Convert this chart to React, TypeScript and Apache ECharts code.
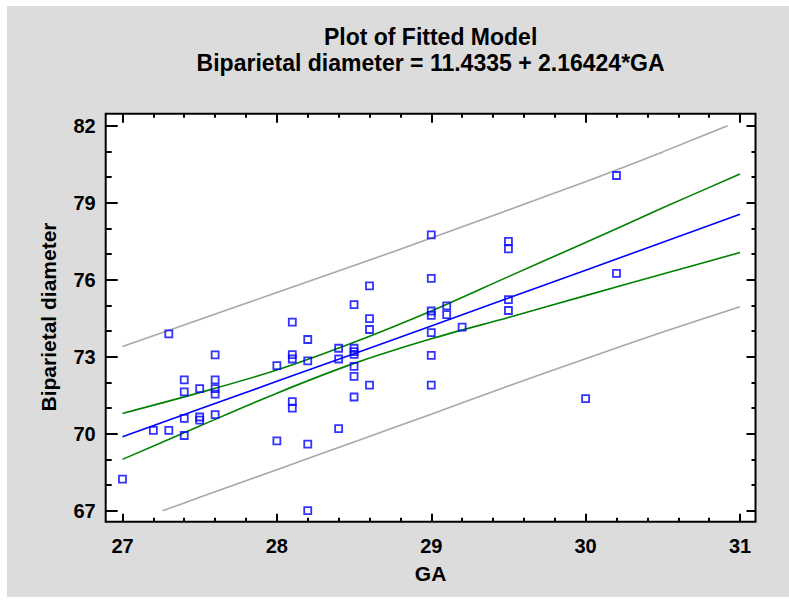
import React, { useEffect, useRef } from "react";
import * as echarts from "echarts";

// Observed points
const pointGA = [
  27.0, 27.2, 27.3, 27.3,
  27.4, 27.4, 27.4, 27.4,
  27.5, 27.5, 27.5,
  27.6, 27.6, 27.6, 27.6, 27.6,
  28.0, 28.0,
  28.1, 28.1, 28.1, 28.1, 28.1,
  28.2, 28.2, 28.2, 28.2,
  28.4, 28.4, 28.4,
  28.5, 28.5, 28.5, 28.5, 28.5, 28.5, 28.5,
  28.6, 28.6, 28.6, 28.6,
  29.0, 29.0, 29.0, 29.0, 29.0, 29.0, 29.0,
  29.1, 29.1,
  29.2,
  29.5, 29.5, 29.5, 29.5,
  30.0,
  30.2, 30.2,
];
const pointBPD = [
  68.23, 70.13, 70.13, 73.89,
  72.1, 71.63, 70.6, 69.93,
  71.76, 70.65, 70.53,
  73.07, 72.1, 71.76, 71.54, 70.74,
  72.65, 69.72,
  74.35, 73.08, 72.91, 71.25, 71.0,
  73.67, 72.84, 69.59, 67.0,
  73.33, 72.91, 70.2,
  75.03, 73.33, 73.2, 73.09, 72.62, 72.23, 71.43,
  75.76, 74.48, 74.06, 71.89,
  77.75, 76.05, 74.78, 74.61, 73.94, 73.05, 71.89,
  74.98, 74.64,
  74.15,
  77.49, 77.2, 75.22, 74.8,
  71.37,
  80.06, 76.25,
];

// Fitted line
const fitGA = [27, 28, 29, 30, 31];
const fitBPD = [69.88, 72.04, 74.2, 76.37, 78.55];

// Confidence limits (green)
const confGA = [27, 27.5, 28, 28.5, 29, 29.5, 30, 30.5, 31];
const upperConfBPD = [70.79, 71.6, 72.48, 73.56, 74.78, 76.12, 77.45, 78.8, 80.12];
const lowerConfBPD = [69.0, 70.3, 71.58, 72.74, 73.7, 74.53, 75.38, 76.22, 77.06];

// Prediction limits (gray)
const upperPredGA = [27.0, 27.5, 28.0, 28.5, 29.0, 29.5, 30.0, 30.5, 30.92];
const upperPredBPD = [73.4, 74.45, 75.5, 76.55, 77.62, 78.72, 79.82, 80.98, 82.0];
const lowerPredGA = [27.26, 27.5, 28.0, 28.5, 29.0, 29.5, 30.0, 30.5, 31.0];
const lowerPredBPD = [67.0, 67.52, 68.6, 69.68, 70.76, 71.86, 72.92, 73.96, 74.95];

// Axis ticks
const yMajorTicks = [67, 70, 73, 76, 79, 82];
const yMinorTicks = [68, 69, 71, 72, 74, 75, 77, 78, 80, 81];

const titleLine1 = "Plot of Fitted Model";
const titleLine2 = "Biparietal diameter = 11.4335 + 2.16424*GA";
const xName = "GA";
const yName = "Biparietal diameter";

const FONT = "'Liberation Sans', Arial, Helvetica, sans-serif";

const zip = (xs: number[], ys: number[]) => xs.map((x, i) => [x, ys[i]]);

export default function App() {
  const ref = useRef<HTMLDivElement>(null);
  useEffect(() => {
    if (!ref.current) return;
    const chart = echarts.init(ref.current, undefined, { renderer: "svg" });
    const tickLine = { color: "#000", width: 2 };
    const labelStyle = {
      color: "#000",
      fontFamily: FONT,
      fontWeight: "bold" as const,
      fontSize: 20,
    };
    const xAxis = (position: "bottom" | "top", offset: number, major: number, minor: number, showLabel: boolean) => ({
      type: "value",
      position,
      offset,
      min: 27,
      max: 31,
      interval: 1,
      axisLine: { show: false },
      splitLine: { show: false },
      axisTick: { show: true, inside: true, length: major, lineStyle: tickLine },
      minorTick: { show: true, splitNumber: 5, length: minor, lineStyle: tickLine },
      minorSplitLine: { show: false },
      axisLabel: { show: showLabel, margin: 14, ...labelStyle },
    });
    const yAxis = (position: "left" | "right", offset: number, values: number[], len: number, showLabel: boolean) => ({
      type: "value",
      position,
      offset,
      min: 67,
      max: 82,
      axisLine: { show: false },
      splitLine: { show: false },
      axisTick: { show: true, inside: true, length: len, lineStyle: tickLine, customValues: values },
      axisLabel: { show: showLabel, margin: 10, customValues: values, ...labelStyle },
    });
    const lineSeries = (data: number[][], color: string, z: number) => ({
      type: "line",
      data,
      showSymbol: false,
      symbol: "none",
      smooth: 0.3,
      lineStyle: { color, width: 1.6 },
      xAxisIndex: 0,
      yAxisIndex: 0,
      z,
      silent: true,
    });
    const textStyle = (text: string, size: number) => ({
      text,
      align: "center",
      verticalAlign: "middle",
      fill: "#000",
      fontFamily: FONT,
      fontWeight: "bold",
      fontSize: size,
    });
    chart.setOption({
      animation: false,
      backgroundColor: "#DCDCDC",
      grid: { left: 115.5, top: 119.7, right: 49, bottom: 86.3, containLabel: false },
      xAxis: [
        xAxis("bottom", 11, 8, 4, true),
        xAxis("top", 12, 9, 4, false),
      ],
      yAxis: [
        yAxis("left", 16.8, yMajorTicks, 12, true),
        yAxis("left", 16.8, yMinorTicks, 6, false),
        yAxis("right", 15.5, yMajorTicks, 9, false),
        yAxis("right", 15.5, yMinorTicks, 4, false),
      ],
      graphic: [
        {
          type: "rect",
          z: -1,
          shape: { x: 98.7, y: 107.7, width: 649.8, height: 408 },
          style: { fill: "#fff" },
          silent: true,
        },
        {
          type: "rect",
          z: 100,
          shape: { x: 98.7, y: 107.7, width: 649.8, height: 408 },
          style: { fill: "none", stroke: "#000", lineWidth: 2 },
          silent: true,
        },
        { type: "text", x: 423.6, y: 31, style: textStyle(titleLine1, 23) },
        { type: "text", x: 423.6, y: 57, style: textStyle(titleLine2, 23) },
        { type: "text", x: 423.6, y: 567, style: textStyle(xName, 21) },
        { type: "text", x: 41, y: 311, rotation: Math.PI / 2, style: textStyle(yName, 21) },
      ],
      series: [
        lineSeries(zip(upperPredGA, upperPredBPD), "#A8A8A8", 2),
        lineSeries(zip(lowerPredGA, lowerPredBPD), "#A8A8A8", 2),
        lineSeries(zip(confGA, upperConfBPD), "#008000", 3),
        lineSeries(zip(confGA, lowerConfBPD), "#008000", 3),
        lineSeries(zip(fitGA, fitBPD), "#0000FF", 4),
        {
          type: "scatter",
          data: zip(pointGA, pointBPD),
          symbol: "rect",
          symbolSize: 7,
          xAxisIndex: 0,
          yAxisIndex: 0,
          itemStyle: { color: "rgba(0,0,0,0)", borderColor: "#0000FF", borderWidth: 1.8 },
          z: 5,
          silent: true,
        },
      ],
    });
    return () => chart.dispose();
  }, []);
  return (
    <div
      ref={ref}
      style={{ position: "absolute", left: 7, top: 6, width: 782, height: 591 }}
    />
  );
}
